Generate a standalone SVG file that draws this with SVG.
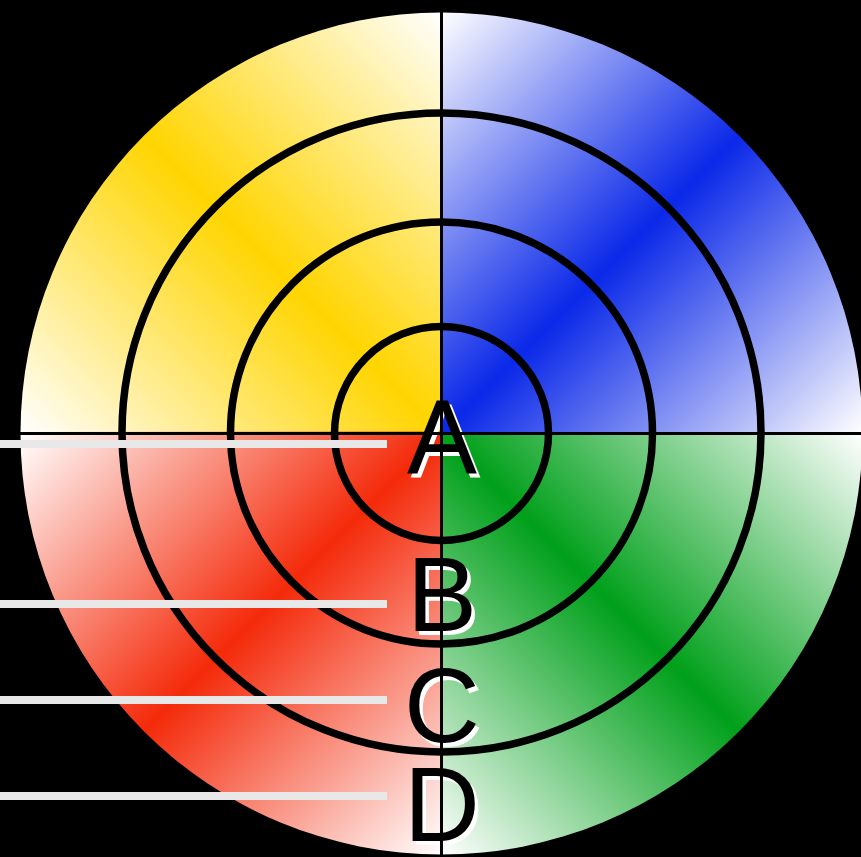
<svg xmlns="http://www.w3.org/2000/svg" width="861" height="857" viewBox="0 0 861 857">
  <style>
    .ring { fill: none; stroke: #000; stroke-width: 7.5; }
    .axis { stroke: #000; stroke-width: 3; }
    .bar { fill: #e8e8e8; }
    .lbl { font-family: "Liberation Sans", Arial, sans-serif; font-size: 105px; text-anchor: middle; }
    .shadow { fill: #fff; }
    .ink { fill: #000; }
  </style>
  <defs>
    <linearGradient id="gY" gradientUnits="userSpaceOnUse" x1="20.5" y1="433.5" x2="441.5" y2="12.5">
      <stop offset="0" stop-color="#ffffff"/>
      <stop offset="0.5" stop-color="#ffd500"/>
      <stop offset="1" stop-color="#ffffff"/>
    </linearGradient>
    <linearGradient id="gB" gradientUnits="userSpaceOnUse" x1="441.5" y1="12.5" x2="862.5" y2="433.5">
      <stop offset="0" stop-color="#ffffff"/>
      <stop offset="0.5" stop-color="#0a28e8"/>
      <stop offset="1" stop-color="#ffffff"/>
    </linearGradient>
    <linearGradient id="gG" gradientUnits="userSpaceOnUse" x1="862.5" y1="433.5" x2="441.5" y2="854.5">
      <stop offset="0" stop-color="#ffffff"/>
      <stop offset="0.5" stop-color="#00a01a"/>
      <stop offset="1" stop-color="#ffffff"/>
    </linearGradient>
    <linearGradient id="gR" gradientUnits="userSpaceOnUse" x1="20.5" y1="433.5" x2="441.5" y2="854.5">
      <stop offset="0" stop-color="#ffffff"/>
      <stop offset="0.5" stop-color="#f42a0a"/>
      <stop offset="1" stop-color="#ffffff"/>
    </linearGradient>
  </defs>

  <rect id="background" x="0" y="0" width="861" height="857" fill="#000"/>

  <g id="quadrants">
    <path id="q-yellow" d="M441.5,433.5 L20.5,433.5 A421,421 0 0 1 441.5,12.5 Z" fill="url(#gY)"/>
    <path id="q-blue" d="M441.5,433.5 L441.5,12.5 A421,421 0 0 1 862.5,433.5 Z" fill="url(#gB)"/>
    <path id="q-green" d="M441.5,433.5 L862.5,433.5 A421,421 0 0 1 441.5,854.5 Z" fill="url(#gG)"/>
    <path id="q-red" d="M441.5,431.5 L20.5,431.5 L20.5,433.5 A421,421 0 0 0 441.5,854.5 Z" fill="url(#gR)"/>
  </g>

  <g id="rings">
    <circle id="ring-a" class="ring" cx="441.5" cy="433.5" r="107"/>
    <circle id="ring-b" class="ring" cx="441.5" cy="433" r="211"/>
    <circle id="ring-c" class="ring" cx="441.5" cy="432.5" r="319.5"/>
  </g>

  <g id="leaders">
    <rect class="bar" x="0" y="440" width="387" height="8"/>
    <rect class="bar" x="0" y="600" width="387" height="8"/>
    <rect class="bar" x="0" y="696" width="387" height="8"/>
    <rect class="bar" x="0" y="792" width="387" height="8"/>
  </g>

  <g id="label-shadows" class="lbl shadow">
    <text x="445.5" y="477">A</text>
    <text x="445.5" y="635">B</text>
    <text x="445.5" y="746">C</text>
    <text x="445.5" y="845">D</text>
  </g>

  <g id="connectors">
    <line class="axis" x1="441.5" y1="0" x2="441.5" y2="857"/>
    <line class="axis" x1="0" y1="433.5" x2="861" y2="433.5"/>
  </g>

  <g id="labels" class="lbl ink">
    <text id="label-a" x="442" y="473">A</text>
    <text id="label-b" x="442" y="631">B</text>
    <text id="label-c" x="442" y="742">C</text>
    <text id="label-d" x="442" y="841">D</text>
  </g>
</svg>
